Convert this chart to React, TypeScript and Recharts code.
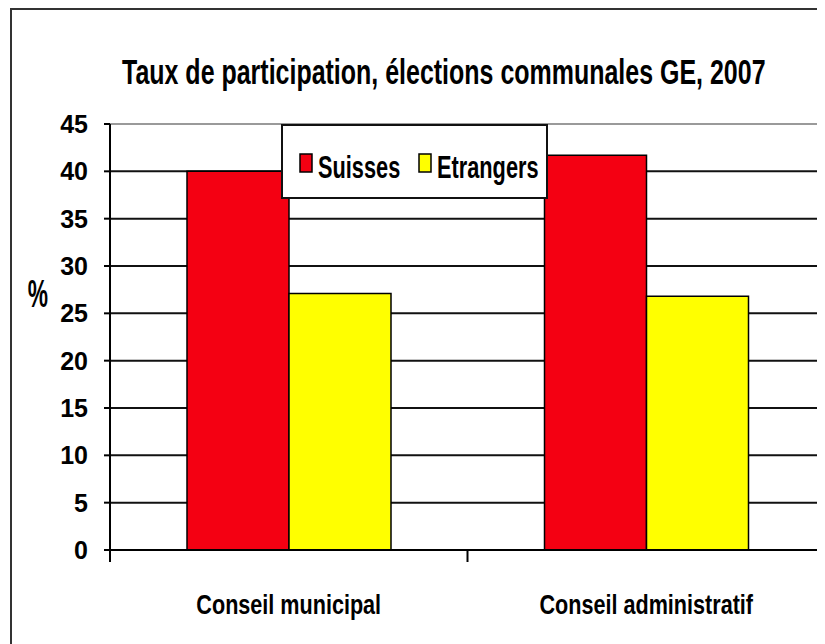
import React from "react";
import { BarChart, Bar, XAxis, YAxis, CartesianGrid, Legend, ReferenceLine } from "recharts";

const categories = ["Conseil municipal", "Conseil administratif"];
const seriesNames = ["Suisses", "Etrangers"];
const suisses = [40, 41.7];
const etrangers = [27.1, 26.8];
const yTicks = [0, 5, 10, 15, 20, 25, 30, 35, 40, 45];
const title = "Taux de participation, élections communales GE, 2007";
const yLabel = "%";

const data = categories.map((name, i) => ({ name, Suisses: suisses[i], Etrangers: etrangers[i] }));

const FONT = "'Liberation Sans', Arial, sans-serif";
const W = 817;
const H = 636;

// x ticks: label at band centre, small tick marks at band edges (Excel style)
const XTick = (props: any) => {
  const { x, y, payload, index } = props;
  const half = payload.offset ?? 0;
  return (
    <g>
      <line x1={x + half} x2={x + half} y1={y} y2={y + 12} stroke="#000" strokeWidth={2} />
      {index === 0 && <line x1={x - half} x2={x - half} y1={y} y2={y + 12} stroke="#000" strokeWidth={2} />}
      <text
        transform={`translate(${x},${y + 64}) scale(0.8,1)`}
        textAnchor="middle"
        fontSize={27}
        fontWeight="bold"
        fontFamily={FONT}
        fill="#000"
      >
        {payload.value}
      </text>
    </g>
  );
};

const renderLegend = (props: any) => {
  const items = [...props.payload].sort(
    (a: any, b: any) => seriesNames.indexOf(a.value) - seriesNames.indexOf(b.value)
  );
  return (
    <div style={{ width: 267, height: 75, boxSizing: "border-box", border: "2px solid #111", background: "#fff" }}>
      <svg width={263} height={71} style={{ display: "block" }}>
        {items.map((p: any, i: number) => (
          <g key={p.value} transform={`translate(${17 + i * 119},0)`}>
            <rect x={0} y={28} width={12} height={18} fill={p.color} stroke="#000" strokeWidth={1.5} />
            <text
              transform="translate(18,52) scale(0.68,1)"
              fontSize={32}
              fontWeight="bold"
              fontFamily={FONT}
              fill="#000"
            >
              {p.value}
            </text>
          </g>
        ))}
      </svg>
    </div>
  );
};

export default function App() {
  return (
    <div style={{ position: "relative", width: W, height: H, overflow: "hidden", background: "#fff" }}>
      <div
        style={{
          position: "absolute",
          left: 2,
          top: 0,
          width: 2000,
          height: 2000,
          border: "2px solid #333",
        }}
      />
      <div style={{ position: "absolute", left: 0, top: 0 }}>
        <BarChart
          width={W}
          height={H}
          data={data}
          margin={{ top: 116, right: 0, bottom: 14, left: 0 }}
          barGap={0}
          barSize={102}
        >
          <CartesianGrid vertical={false} stroke="#111" strokeWidth={2} />
          <ReferenceLine y={45} stroke="#9a9a9a" strokeWidth={2} />
          <XAxis
            dataKey="name"
            height={80}
            axisLine={{ stroke: "#000", strokeWidth: 2 }}
            tickLine={false}
            tickSize={0}
            tickMargin={0}
            tick={<XTick />}
            interval={0}
          />
          <YAxis
            width={102}
            domain={[0, 45]}
            ticks={yTicks}
            interval={0}
            axisLine={{ stroke: "#000", strokeWidth: 2 }}
            tickLine={{ stroke: "#000", strokeWidth: 2 }}
            tickSize={6}
            tickMargin={16}
            tick={{ fontSize: 25, fontWeight: "bold", fill: "#000", fontFamily: FONT }}
          />
          <Legend
            layout="horizontal"
            verticalAlign="middle"
            align="center"
            content={renderLegend}
            wrapperStyle={{ position: "absolute", left: 273, top: 116, width: 267, height: 75 }}
          />
          <Bar dataKey="Suisses" fill="#F40012" stroke="#000" strokeWidth={1.5} isAnimationActive={false} />
          <Bar dataKey="Etrangers" fill="#FFFF00" stroke="#000" strokeWidth={1.5} isAnimationActive={false} />
        </BarChart>
      </div>
      <svg width={W} height={H} style={{ position: "absolute", left: 0, top: 0, pointerEvents: "none" }}>
        <text
          transform="translate(114,76) scale(0.714,1)"
          fontSize={35}
          fontWeight="bold"
          fontFamily={FONT}
          fill="#000"
        >
          {title}
        </text>
        <text transform="translate(30,299) scale(0.6,1)" textAnchor="middle" fontSize={38} fontWeight="bold" fontFamily={FONT} fill="#000">
          {yLabel}
        </text>
      </svg>
    </div>
  );
}
